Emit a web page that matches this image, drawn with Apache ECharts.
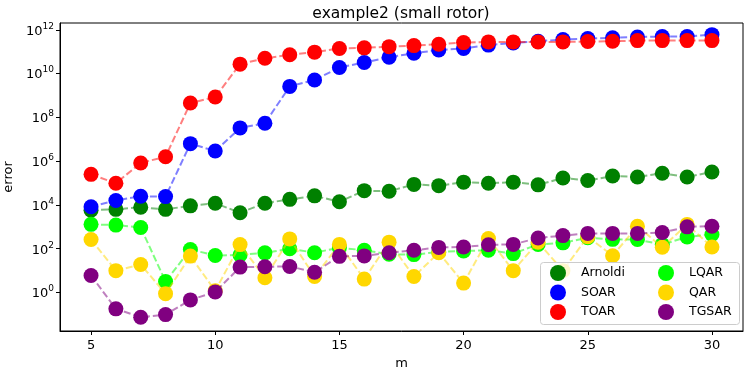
<!DOCTYPE html>
<html>
<head>
<meta charset="utf-8">
<script src="https://cdn.jsdelivr.net/npm/echarts@6/dist/echarts.min.js"></script>
</head>
<body style="margin:0">
<div id="container" style="width:747px;height:374px"></div>
<script>
var m = [5,6,7,8,9,10,11,12,13,14,15,16,17,18,19,20,21,22,23,24,25,26,27,28,29,30];
var arnoldi = [5.8e3,6.3e3,7.8e3,6.3e3,9.1e3,1.2e4,4.4e3,1.2e4,1.8e4,2.6e4,1.4e4,4.5e4,4.2e4,8.7e4,7.6e4,1.1e5,9.8e4,1.1e5,8.3e4,1.7e5,1.3e5,2.1e5,1.9e5,2.8e5,1.9e5,3.2e5];
var soar = [8.3e3,1.6e4,2.5e4,2.4e4,6.3e6,2.9e6,3.3e7,5.4e7,2.6e9,5.1e9,1.9e10,3.2e10,5.6e10,8.5e10,1.2e11,1.4e11,2.0e11,2.5e11,3.0e11,3.6e11,4.0e11,4.3e11,4.7e11,4.9e11,4.9e11,6.0e11];
var toar = [2.5e5,9.8e4,8.3e5,1.6e6,4.5e8,8.5e8,2.7e10,5.0e10,7.2e10,9.5e10,1.4e11,1.5e11,1.7e11,1.9e11,2.2e11,2.6e11,2.8e11,2.8e11,2.8e11,2.8e11,2.9e11,3.0e11,3.2e11,3.2e11,3.2e11,3.2e11];
var lqar = [1300,1200,930,3.2,93,49,52,65,100,66,112,85,56,54,71,79,85,60,158,186,316,269,263,155,347,447];
var qar = [263,10,19,0.89,46,1.2,155,4.7,282,5.4,158,4.1,200,5.4,66,2.7,295,10,200,10,355,48,1070,117,1290,120];
var tgsar = [6.0,0.18,0.074,0.098,0.46,1.07,14.5,15,15.5,8.5,45,47,66,85,115,120,151,158,309,398,501,501,501,550,1000,1070];

var names = ['Arnoldi','SOAR','TOAR','LQAR','QAR','TGSAR'];
var colors = ['#008000','#0000ff','#ff0000','#00ff00','#ffd700','#800080'];
var values = [arnoldi, soar, toar, lqar, qar, tgsar];
var xTicks = [5,10,15,20,25,30];
var yTicks = [1,1e2,1e4,1e6,1e8,1e10,1e12];

var font = 'DejaVu Sans';
var chart = echarts.init(document.getElementById('container'));

var series = names.map(function (name, k) {
    return {
        name: name,
        type: 'line',
        data: m.map(function (x, i) { return [x, values[k][i]]; }),
        symbol: 'circle',
        symbolSize: 15,
        itemStyle: { color: colors[k] },
        lineStyle: { color: colors[k], width: 2, type: [7, 3], opacity: 0.5 },
        z: 2 + k,
        animation: false
    };
});

function legendPart(items, x) {
    return {
        data: items,
        orient: 'vertical',
        left: x, top: 265, padding: 0,
        icon: 'circle', itemWidth: 16, itemHeight: 16, itemGap: 3.5,
        textStyle: { fontFamily: font, fontSize: 12.5, color: '#000', padding: [0, 0, 0, 10] },
        z: 101
    };
}

var option = {
    animation: false,
    title: {
        text: 'example2 (small rotor)',
        left: 401,
        textAlign: 'center',
        top: 6, padding: 0,
        textStyle: { fontFamily: font, fontSize: 15.5, fontWeight: 'normal', color: '#000' }
    },
    grid: { left: 60, right: 4, top: 23, bottom: 43, outerBoundsMode: 'none', containLabel: false,
            show: true, borderColor: '#000', borderWidth: 1 },
    legend: [legendPart(names.slice(0, 3), 550), legendPart(names.slice(3), 658)],
    graphic: [{
        type: 'rect', z: 100,
        shape: { x: 540.5, y: 262.5, width: 199, height: 62, r: 3 },
        style: { fill: 'rgba(255,255,255,0.8)', stroke: '#cccccc', lineWidth: 1 }
    }],
    xAxis: {
        type: 'value', min: 3.75, max: 31.25,
        name: 'm', nameLocation: 'middle', nameGap: 26,
        nameTextStyle: { fontFamily: font, fontSize: 13, color: '#000' },
        axisLine: { lineStyle: { color: '#000', width: 1 } },
        axisTick: { customValues: xTicks, length: 4, lineStyle: { color: '#000' } },
        axisLabel: { customValues: xTicks, fontFamily: font, fontSize: 13, color: '#000', margin: 8 },
        splitLine: { show: false }
    },
    yAxis: {
        type: 'log', logBase: 10,
        min: Math.pow(10, -1.757), max: Math.pow(10, 12.31),
        name: 'error', nameLocation: 'middle', nameGap: 44, nameRotate: 90,
        nameTextStyle: { fontFamily: font, fontSize: 13, color: '#000' },
        axisLine: { show: true, lineStyle: { color: '#000', width: 1 } },
        axisTick: { customValues: yTicks, length: 4, lineStyle: { color: '#000' } },
        axisLabel: {
            customValues: yTicks, margin: 6,
            formatter: function (v) {
                return '{b|10}{s|' + Math.round(Math.log10(v)) + '}';
            },
            rich: {
                b: { fontFamily: font, fontSize: 13, color: '#000', lineHeight: 16, verticalAlign: 'bottom' },
                s: { fontFamily: font, fontSize: 9, color: '#000', lineHeight: 10, verticalAlign: 'top' }
            }
        },
        splitLine: { show: false }
    },
    series: series
};
chart.setOption(option);
</script>
</body>
</html>
